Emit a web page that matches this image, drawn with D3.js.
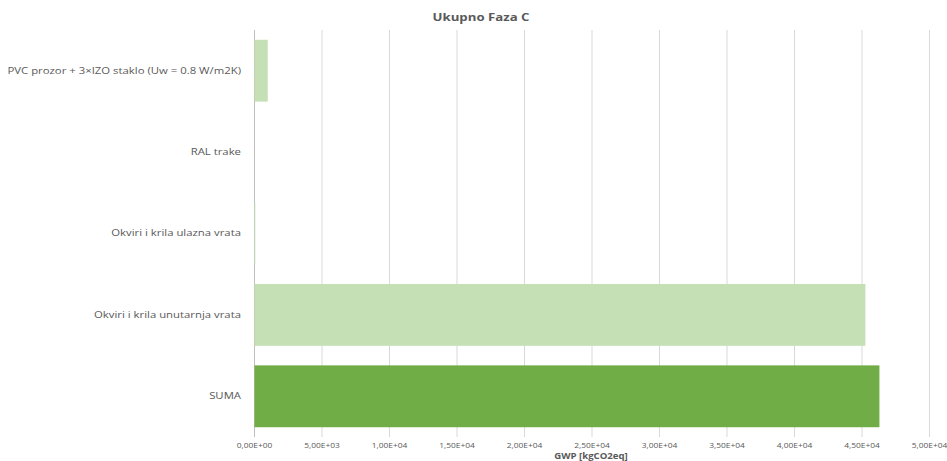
<!DOCTYPE html>
<html>
<head>
<meta charset="utf-8">
<script src="https://cdn.jsdelivr.net/npm/d3@7"></script>
<style>
  body { margin: 0; background: #fff; }
  text { font-family: "Open Sans", "Noto Sans", sans-serif; fill: #595959; }
</style>
</head>
<body>
<svg width="947" height="461"></svg>
<script>
var categories = ["PVC prozor + 3×IZO staklo (Uw = 0.8 W/m2K)", "RAL trake", "Okviri i krila ulazna vrata", "Okviri i krila unutarnja vrata", "SUMA"];
var values = [980, 0, 60, 45250, 46290];
var barColors = ["#c5e0b4", "#c5e0b4", "#c5e0b4", "#c5e0b4", "#70ad47"];
var tickValues = [0, 5000, 10000, 15000, 20000, 25000, 30000, 35000, 40000, 45000, 50000];
var tickLabels = ["0,00E+00", "5,00E+03", "1,00E+04", "1,50E+04", "2,00E+04", "2,50E+04", "3,00E+04", "3,50E+04", "4,00E+04", "4,50E+04", "5,00E+04"];

var svg = d3.select("svg");

var scaleX = d3.scaleLinear()
                .domain([0, 50000])
                .range([254, 929]);

var scaleY = d3.scaleBand()
                .domain(categories)
                .range([30, 437])
                .paddingInner(0.24)
                .paddingOuter(0.12);

// the reference text is stretched sideways a bit
function stretch(sel, k) {
  sel.each(function() {
    var w = this.getComputedTextLength();
    d3.select(this)
      .attr("textLength", w * k)
      .attr("lengthAdjust", "spacingAndGlyphs");
  });
}

// gridlines
svg.append("g")
    .selectAll("line")
    .data(tickValues)
    .enter()
    .append("line")
    .attr("x1", function(d) { return scaleX(d) + 0.5 })
    .attr("x2", function(d) { return scaleX(d) + 0.5 })
    .attr("y1", 30)
    .attr("y2", 437)
    .attr("stroke", function(d, i) { return i == 0 ? "#bfbfbf" : "#d9d9d9" })
    .attr("stroke-width", 1);

// bars
svg.append("g")
    .selectAll("rect")
    .data(values)
    .enter()
    .append("rect")
    .attr("x", scaleX(0) + 0.5)
    .attr("y", function(d, i) { return scaleY(categories[i]) })
    .attr("width", function(d) { return Math.max(0, scaleX(d) - scaleX(0)) })
    .attr("height", scaleY.bandwidth())
    .attr("fill", function(d, i) { return barColors[i] });

// x axis labels
var xAxis = svg.append("g")
    .attr("transform", "translate(0,437)")
    .call(d3.axisBottom(scaleX)
        .tickValues(tickValues)
        .tickSize(0)
        .tickPadding(6)
        .tickFormat(function(d, i) { return tickLabels[i] }));
xAxis.select(".domain").remove();
xAxis.selectAll("text")
    .style("font-size", "7px")
    .attr("fill", "#595959")
    .call(stretch, 1.2);

// y axis labels
var yAxis = svg.append("g")
    .attr("transform", "translate(254,0)")
    .call(d3.axisLeft(scaleY).tickSize(0).tickPadding(13));
yAxis.select(".domain").remove();
yAxis.selectAll("text")
    .style("font-size", "9.3px")
    .attr("fill", "#595959")
    .call(stretch, 1.22);

// titles
svg.append("text")
    .attr("x", 481)
    .attr("y", 21)
    .attr("text-anchor", "middle")
    .style("font-size", "11px")
    .style("font-weight", "bold")
    .text("Ukupno Faza C")
    .call(stretch, 1.2);

svg.append("text")
    .attr("x", 591)
    .attr("y", 459)
    .attr("text-anchor", "middle")
    .style("font-size", "8px")
    .style("font-weight", "bold")
    .text("GWP [kgCO2eq]")
    .call(stretch, 1.2);
</script>
</body>
</html>
